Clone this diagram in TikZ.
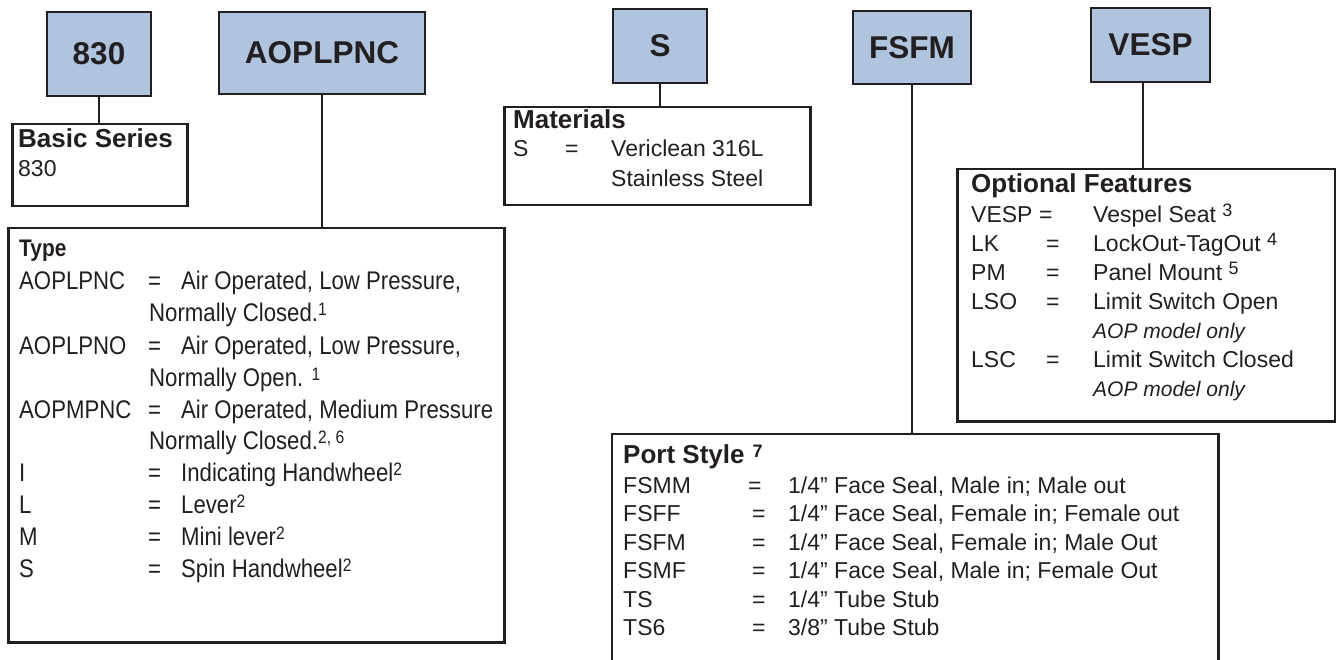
\documentclass[tikz,border=0pt]{standalone}
\usepackage{fontspec}
\setmainfont{Liberation Sans}
\newfontfamily\condfont[FakeStretch=0.87]{Liberation Sans}
\definecolor{ink}{RGB}{35,31,32}
\definecolor{codeblue}{RGB}{176,196,222}
% footnote numbers
\newcommand{\notenum}[1]{\raisebox{6pt}{\fontsize{18}{18}\selectfont #1}}
% columns of the ordering tables
\newcommand{\typerow}[2]{\makebox[129pt][l]{#1}\makebox[33pt][l]{=}#2}
\newcommand{\optrow}[2]{\makebox[75pt][l]{#1}\makebox[47pt][l]{=}#2}
\newcommand{\portrow}[2]{\makebox[129pt][l]{#1}\makebox[36pt][l]{=}#2}
\tikzset{
    codebox/.style={draw=ink, fill=codeblue, line width=2.5pt, inner sep=0pt, text=ink,
        font=\fontsize{31.5}{36}\selectfont\bfseries},
    infobox/.style={draw=ink, line width=2.5pt, inner sep=0pt, anchor=north west},
    head/.style={anchor=base west, inner sep=0pt, text=ink, font=\fontsize{26}{30}\selectfont\bfseries},
    entry/.style={anchor=base west, inner sep=0pt, text=ink, font=\fontsize{23}{27}\selectfont},
    typeentry/.style={entry, font=\condfont\fontsize{25.5}{30}\selectfont},
    note/.style={entry, font=\fontsize{21}{25}\selectfont\itshape},
    link/.style={draw=ink, line width=2pt},
}
\begin{document}
\begin{tikzpicture}[x=1pt, y=-1pt]
\useasboundingbox (0,0) rectangle (1336,660);
% part number fields
\node[codebox, minimum width=104pt, minimum height=84pt] (series) at (99,54) {830};
\node[codebox, minimum width=206pt, minimum height=82pt] (type) at (322,53) {AOPLPNC};
\node[codebox, minimum width=94pt, minimum height=74pt] (material) at (660,46) {S};
\node[codebox, minimum width=118pt, minimum height=73pt] (port) at (912,47.5) {FSFM};
\node[codebox, minimum width=119pt, minimum height=74pt] (option) at (1150.5,45) {VESP};
% boxes below
\node[infobox, minimum width=175pt, minimum height=82pt] (seriesbox) at (11,123) {};
\node[infobox, minimum width=496pt, minimum height=414pt] (typebox) at (7,227) {};
\node[infobox, minimum width=306pt, minimum height=98pt] (materialbox) at (503,106) {};
\node[infobox, minimum width=378pt, minimum height=252pt] (optionbox) at (956,168) {};
\node[infobox, draw=none, minimum width=604pt, minimum height=228pt] (portbox) at (612,434) {}; % open at the bottom
\draw[link, line width=2.5pt] (portbox.south west) -- (portbox.north west) -- (portbox.north east) -- (portbox.south east);
% connectors
\draw[link] (series.south) -- (series.south |- seriesbox.north);
\draw[link] (type.south) -- (type.south |- typebox.north);
\draw[link] (material.south) -- (material.south |- materialbox.north);
\draw[link] (port.south) -- (port.south |- portbox.north);
\draw[link] ([xshift=-7.5pt]option.south) -- ([xshift=-7.5pt]option.south |- optionbox.north);
% basic series
\node[head] (serieshead) at (18,148) {Basic Series};
\node[entry] (series1) at (18,177) {830};
% type
\node[head, font=\condfont\fontsize{24}{28}\selectfont\bfseries] (typehead) at (19,257) {Type};
\node[typeentry] (type1) at (19,290) {\typerow{AOPLPNC}{Air Operated, Low Pressure,}};
\node[typeentry] (type1b) at (149,322) {Normally Closed.\notenum{1}};
\node[typeentry] (type2) at (19,354) {\typerow{AOPLPNO}{Air Operated, Low Pressure,}};
\node[typeentry] (type2b) at (149,386) {Normally Open. \notenum{1}};
\node[typeentry] (type3) at (19,418) {\typerow{AOPMPNC}{Air Operated, Medium Pressure}};
\node[typeentry] (type3b) at (149,449.5) {Normally Closed.\notenum{2, 6}};
\node[typeentry] (type4) at (19,481.5) {\typerow{I}{Indicating Handwheel\notenum{2}}};
\node[typeentry] (type5) at (19,513.5) {\typerow{L}{Lever\notenum{2}}};
\node[typeentry] (type6) at (19,545.5) {\typerow{M}{Mini lever\notenum{2}}};
\node[typeentry] (type7) at (19,577) {\typerow{S}{Spin Handwheel\notenum{2}}};
% materials
\node[head] (materialhead) at (513,129) {Materials};
\node[entry] (material1) at (513,157) {\makebox[52pt][l]{S}\makebox[46pt][l]{=}Vericlean 316L};
\node[entry] (material1b) at (611,187) {Stainless Steel};
% optional features
\node[head] (optionhead) at (971,193) {Optional Features};
\node[entry] (option1) at (971,223) {\makebox[68pt][l]{VESP}\makebox[54pt][l]{=}Vespel Seat \notenum{3}};
\node[entry] (option2) at (971,252) {\optrow{LK}{LockOut-TagOut \notenum{4}}};
\node[entry] (option3) at (971,281) {\optrow{PM}{Panel Mount \notenum{5}}};
\node[entry] (option4) at (971,309) {\optrow{LSO}{Limit Switch Open}};
\node[note] (option4b) at (1093,338) {AOP model only};
\node[entry] (option5) at (971,367) {\optrow{LSC}{Limit Switch Closed}};
\node[note] (option5b) at (1093,396) {AOP model only};
% port style
\node[head] (porthead) at (623,463) {Port Style\hspace{8pt}\notenum{7}};
\node[entry] (port1) at (623,493) {\makebox[125pt][l]{FSMM}\makebox[40pt][l]{=}1/4” Face Seal, Male in; Male out};
\node[entry] (port2) at (623,521.5) {\portrow{FSFF}{1/4” Face Seal, Female in; Female out}};
\node[entry] (port3) at (623,550) {\portrow{FSFM}{1/4” Face Seal, Female in; Male Out}};
\node[entry] (port4) at (623,578.5) {\portrow{FSMF}{1/4” Face Seal, Male in; Female Out}};
\node[entry] (port5) at (623,607) {\portrow{TS}{1/4” Tube Stub}};
\node[entry] (port6) at (623,635.5) {\portrow{TS6}{3/8” Tube Stub}};
\end{tikzpicture}
\end{document}
